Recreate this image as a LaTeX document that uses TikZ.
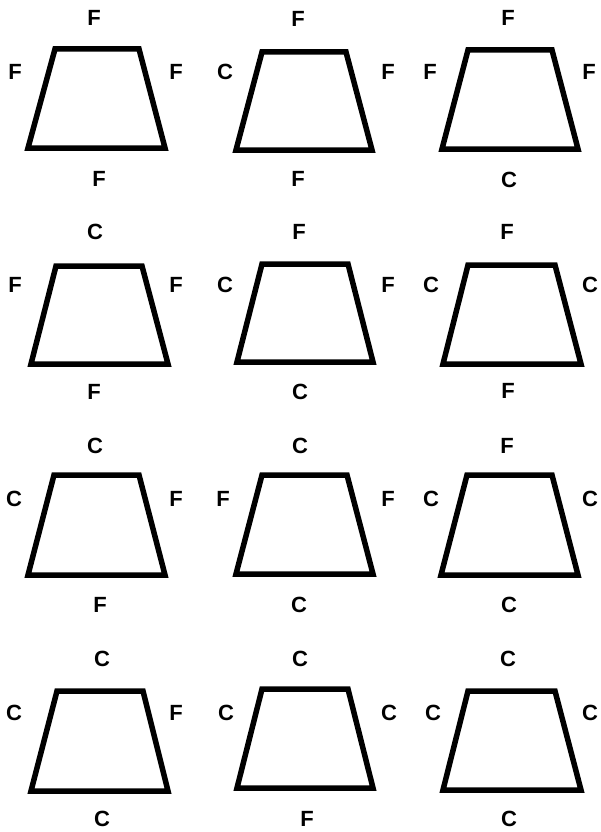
\documentclass[tikz,border=0pt]{standalone}
\usepackage{fontspec}
\setmainfont{Liberation Sans}
\begin{document}
\begin{tikzpicture}[x=1pt,y=-1pt,
  trap/.style={draw=black,line width=5.5pt,line join=miter},
  lbl/.style={inner sep=0pt,anchor=center,font=\fontsize{22}{22}\selectfont\bfseries}]
\useasboundingbox[fill=white] (0,0) rectangle (600,832);
% row 1
\draw[trap] (55,49) -- (139,49) -- (165,148) -- (28,148) -- cycle;
\node[lbl] (t1) at (94,18) {F}; \node[lbl] (l1) at (15,72) {F}; \node[lbl] (r1) at (176,72) {F}; \node[lbl] (b1) at (99,179) {F};
\draw[trap] (262,52) -- (346,52) -- (372,150) -- (236,150) -- cycle;
\node[lbl] (t2) at (298,19) {F}; \node[lbl] (l2) at (225,72) {C}; \node[lbl] (r2) at (388,72) {F}; \node[lbl] (b2) at (298,179) {F};
\draw[trap] (468,50) -- (552,50) -- (578,149) -- (442,149) -- cycle;
\node[lbl] (t3) at (508,18) {F}; \node[lbl] (l3) at (430,72) {F}; \node[lbl] (r3) at (589,72) {F}; \node[lbl] (b3) at (509,180) {C};
% row 2
\draw[trap] (56,266) -- (142,266) -- (168,364) -- (31,364) -- cycle;
\node[lbl] (t4) at (95,232) {C}; \node[lbl] (l4) at (15,285) {F}; \node[lbl] (r4) at (176,285) {F}; \node[lbl] (b4) at (94,392) {F};
\draw[trap] (262,264) -- (348,264) -- (373,362) -- (237,362) -- cycle;
\node[lbl] (t5) at (299,232) {F}; \node[lbl] (l5) at (225,285) {C}; \node[lbl] (r5) at (388,285) {F}; \node[lbl] (b5) at (300,392) {C};
\draw[trap] (468,265) -- (555,265) -- (581,364) -- (443,364) -- cycle;
\node[lbl] (t6) at (507,232) {F}; \node[lbl] (l6) at (431,285) {C}; \node[lbl] (r6) at (590,285) {C}; \node[lbl] (b6) at (508,391) {F};
% row 3
\draw[trap] (54,475) -- (139,475) -- (165,575) -- (28,575) -- cycle;
\node[lbl] (t7) at (95,446) {C}; \node[lbl] (l7) at (14,499) {C}; \node[lbl] (r7) at (176,499) {F}; \node[lbl] (b7) at (100,605) {F};
\draw[trap] (262,475) -- (347,475) -- (373,574) -- (236,574) -- cycle;
\node[lbl] (t8) at (300,446) {C}; \node[lbl] (l8) at (223,499) {F}; \node[lbl] (r8) at (388,499) {F}; \node[lbl] (b8) at (299,605) {C};
\draw[trap] (467,475) -- (552,475) -- (578,575) -- (441,575) -- cycle;
\node[lbl] (t9) at (507,446) {F}; \node[lbl] (l9) at (431,499) {C}; \node[lbl] (r9) at (590,499) {C}; \node[lbl] (b9) at (509,605) {C};
% row 4
\draw[trap] (57,691) -- (143,691) -- (168,791) -- (31,791) -- cycle;
\node[lbl] (t10) at (102,659) {C}; \node[lbl] (l10) at (14,713) {C}; \node[lbl] (r10) at (176,713) {F}; \node[lbl] (b10) at (102,819) {C};
\draw[trap] (262,689) -- (348,689) -- (373,788) -- (237,788) -- cycle;
\node[lbl] (t11) at (300,659) {C}; \node[lbl] (l11) at (226,713) {C}; \node[lbl] (r11) at (389,713) {C}; \node[lbl] (b11) at (307,819) {F};
\draw[trap] (468,691) -- (555,691) -- (581,790) -- (443,790) -- cycle;
\node[lbl] (t12) at (508,659) {C}; \node[lbl] (l12) at (433,713) {C}; \node[lbl] (r12) at (590,713) {C}; \node[lbl] (b12) at (509,819) {C};
\end{tikzpicture}
\end{document}
